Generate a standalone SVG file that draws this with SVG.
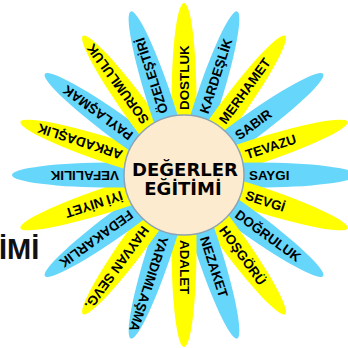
<svg xmlns="http://www.w3.org/2000/svg" width="348" height="348" viewBox="0 0 348 348">
<style>
.y{fill:#FFFF00}
.b{fill:#66D6FA}
.pt{font-family:"Liberation Sans",Arial,sans-serif;font-weight:bold;font-size:13.4px;fill:#000;dominant-baseline:central}
.ct{font-family:"DejaVu Sans",sans-serif;font-weight:bold;font-size:18px;fill:#000;text-anchor:middle}
</style>
<rect width="348" height="348" fill="#fff"/>
<text id="title-fragment" x="-1" y="259" font-family="Liberation Sans, Arial, sans-serif" font-weight="bold" font-size="29" fill="#111">İMİ</text>
<g id="petals">
<g id="p-dostluk" transform="rotate(-90 184 175)"><ellipse class="y" cx="256" cy="175" rx="100" ry="12.5"/><text class="pt" x="249" y="175">DOSTLUK</text></g>
<g id="p-kardeslik" transform="rotate(-72 184 175)"><ellipse class="b" cx="256" cy="175" rx="100" ry="12.5"/><text class="pt" x="249" y="175">KARDEŞLİK</text></g>
<g id="p-merhamet" transform="rotate(-54 184 175)"><ellipse class="y" cx="256" cy="175" rx="100" ry="12.5"/><text class="pt" x="249" y="175">MERHAMET</text></g>
<g id="p-sabir" transform="rotate(-36 184 175)"><ellipse class="b" cx="256" cy="175" rx="100" ry="12.5"/><text class="pt" x="249" y="175">SABIR</text></g>
<g id="p-tevazu" transform="rotate(-18 184 175)"><ellipse class="y" cx="256" cy="175" rx="100" ry="12.5"/><text class="pt" x="249" y="175">TEVAZU</text></g>
<g id="p-saygi" transform="rotate(0 184 175)"><ellipse class="b" cx="256" cy="175" rx="100" ry="12.5"/><text class="pt" x="249" y="175">SAYGI</text></g>
<g id="p-sevgi" transform="rotate(18 184 175)"><ellipse class="y" cx="256" cy="175" rx="100" ry="12.5"/><text class="pt" x="249" y="175">SEVGİ</text></g>
<g id="p-dogruluk" transform="rotate(36 184 175)"><ellipse class="b" cx="256" cy="175" rx="100" ry="12.5"/><text class="pt" x="249" y="175">DOĞRULUK</text></g>
<g id="p-hosgoru" transform="rotate(54 184 175)"><ellipse class="y" cx="256" cy="175" rx="100" ry="12.5"/><text class="pt" x="249" y="175">HOŞGÖRÜ</text></g>
<g id="p-nezaket" transform="rotate(72 184 175)"><ellipse class="b" cx="256" cy="175" rx="100" ry="12.5"/><text class="pt" x="249" y="175">NEZAKET</text></g>
<g id="p-adalet" transform="rotate(90 184 175)"><ellipse class="y" cx="256" cy="175" rx="100" ry="12.5"/><text class="pt" x="249" y="175">ADALET</text></g>
<g id="p-yardimlasma" transform="rotate(108 184 175)"><ellipse class="b" cx="256" cy="175" rx="100" ry="12.5"/><text class="pt" x="249" y="175">YARDIMLAŞMA</text></g>
<g id="p-hayvan" transform="rotate(126 184 175)"><ellipse class="y" cx="256" cy="175" rx="100" ry="12.5"/><text class="pt" x="249" y="175">HAYVAN SEVG.</text></g>
<g id="p-fedakarlik" transform="rotate(144 184 175)"><ellipse class="b" cx="256" cy="175" rx="100" ry="12.5"/><text class="pt" x="249" y="175">FEDAKARLIK</text></g>
<g id="p-iyiniyet" transform="rotate(162 184 175)"><ellipse class="y" cx="256" cy="175" rx="100" ry="12.5"/><text class="pt" x="249" y="175">İYİ NİYET</text></g>
<g id="p-vefalilik" transform="rotate(180 184 175)"><ellipse class="b" cx="256" cy="175" rx="100" ry="12.5"/><text class="pt" x="249" y="175">VEFALILIK</text></g>
<g id="p-arkadaslik" transform="rotate(198 184 175)"><ellipse class="y" cx="256" cy="175" rx="100" ry="12.5"/><text class="pt" x="249" y="175">ARKADAŞLIK</text></g>
<g id="p-paylasmak" transform="rotate(216 184 175)"><ellipse class="b" cx="256" cy="175" rx="100" ry="12.5"/><text class="pt" x="249" y="175">PAYLAŞMAK</text></g>
<g id="p-sorumluluk" transform="rotate(234 184 175)"><ellipse class="y" cx="256" cy="175" rx="100" ry="12.5"/><text class="pt" x="249" y="175">SORUMLULUK</text></g>
<g id="p-ozelestiri" transform="rotate(252 184 175)"><ellipse class="b" cx="256" cy="175" rx="100" ry="12.5"/><text class="pt" x="249" y="175">ÖZELEŞTİRİ</text></g>
</g>
<g id="center">
<circle cx="184" cy="175" r="60" fill="#FDEBCF" stroke="#8EA3B5" stroke-width="1.5"/>
<text class="ct" x="185" y="175.5">DEĞERLER</text>
<text class="ct" x="183" y="194.5">EĞİTİMİ</text>
</g>
</svg>
